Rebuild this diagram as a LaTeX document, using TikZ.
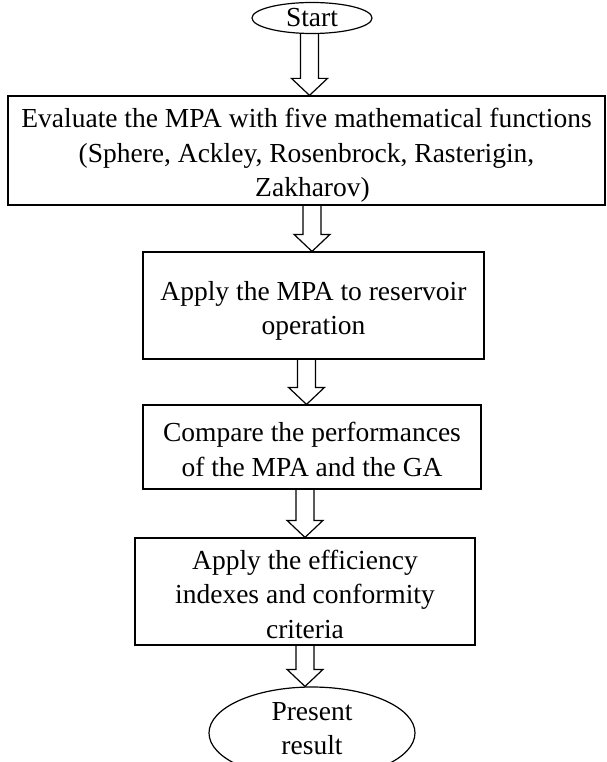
\documentclass[tikz,border=0pt]{standalone}
\usepackage{fontspec}
\setmainfont{Liberation Serif}
\usetikzlibrary{shapes}
\usetikzlibrary{calc}

% lines of a node, moved up or down without changing its border
\newcommand{\lift}[2]{\raisebox{#1}[0pt][0pt]{\begin{tabular}{@{}c@{}}#2\end{tabular}}}

\tikzset{
    txt/.style={font=\fontsize{27.5}{34.5}\selectfont, line width=1.2pt},
    box/.style={txt, draw, rectangle, align=center, inner sep=0pt},
    oval/.style={txt, draw, ellipse, align=center, inner sep=0pt},
    hollow/.style={line width=1.2pt, to path={let \p1=(\tikztostart), \p2=(\tikztotarget) in
        (\x1-9pt,\y1) -- (\x1-9pt,\y2+17pt) -- (\x1-18pt,\y2+17pt) -- (\x1,\y2)
        -- (\x1+18pt,\y2+17pt) -- (\x1+9pt,\y2+17pt) -- (\x1+9pt,\y1)}}
}

\begin{document}
\begin{tikzpicture}[x=1pt, y=-1pt]
    \useasboundingbox (0,0) rectangle (606,762);

    \node[oval, minimum width=120pt, minimum height=31pt] (Start) at (312,18) {Start};
    \node[box, minimum width=597pt, minimum height=109pt] (Eval) at (306.5,150.5)
        {\lift{-10.9pt}{Evaluate the MPA with five mathematical functions\\(Sphere, Ackley, Rosenbrock, Rasterigin,\\\hspace*{12pt}Zakharov)}};
    \node[box, minimum width=341pt, minimum height=107pt] (Apply) at (313.5,305.5)
        {\lift{-11.4pt}{Apply the MPA to reservoir\\operation}};
    \node[box, minimum width=338pt, minimum height=84pt] (Comp) at (312,447)
        {\lift{-11.4pt}{Compare the performances\\of the MPA and the GA}};
    \node[box, minimum width=340pt, minimum height=107pt] (Idx) at (305,591.5)
        {\lift{-11.4pt}{Apply the efficiency\\indexes and conformity\\criteria}};
    \node[oval, minimum width=206pt, minimum height=92pt] (Res) at (312,733)
        {\lift{-3.9pt}{Present\\result}};

    \draw[hollow] ([xshift=-2.5pt]Start.south) to (Eval.north);
    \draw[hollow] ([xshift=5.5pt]Eval.south) to (Apply.north);
    \draw[hollow] ([xshift=-7pt]Apply.south) to (Comp.north);
    \draw[hollow] ([xshift=-7pt]Comp.south) to (Idx.north);
    \draw[hollow] (Idx.south) to (Res.north);
\end{tikzpicture}
\end{document}
